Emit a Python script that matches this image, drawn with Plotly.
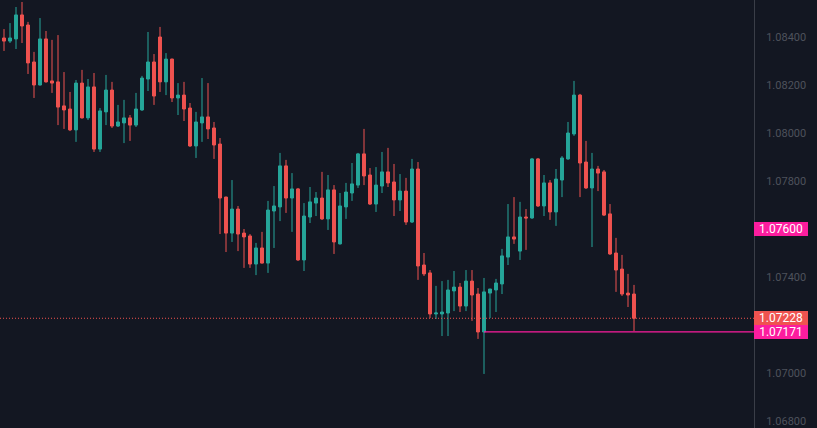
"""
EUR/USD style candlestick snapshot — dark TradingView-like look.
Writes out.html with a single Plotly figure.
"""

import plotly.graph_objects as go

# ---------------------------------------------------------------------------
# Data (OHLC per bar, first bar is partly cut off at the left edge)
# ---------------------------------------------------------------------------
opens = [
    1.08317, 1.08396, 1.08383, 1.08392, 1.08492, 1.08450, 1.08296, 1.08200, 1.08392, 1.08217,
    1.08213, 1.08113, 1.08100, 1.08013, 1.08208, 1.08063, 1.08192, 1.07933, 1.08088, 1.08179,
    1.08029, 1.08042, 1.08063, 1.08033, 1.08096, 1.08225, 1.08296, 1.08400, 1.08213, 1.08308,
    1.08146, 1.08158, 1.08104, 1.07946, 1.08042, 1.08067, 1.08021, 1.07954, 1.07733, 1.07583,
    1.07683, 1.07583, 1.07571, 1.07454, 1.07521, 1.07458, 1.07675, 1.07692, 1.07863, 1.07729,
    1.07767, 1.07471, 1.07650, 1.07708, 1.07729, 1.07642, 1.07763, 1.07538, 1.07692, 1.07750,
    1.07783, 1.07913, 1.07825, 1.07704, 1.07779, 1.07838, 1.07796, 1.07721, 1.07758, 1.07629,
    1.07850, 1.07450, 1.07417, 1.07246, 1.07246, 1.07250, 1.07342, 1.07358, 1.07279, 1.07383,
    1.07329, 1.07171, 1.07333, 1.07346, 1.07371, 1.07483, 1.07567, 1.07508, 1.07650, 1.07646,
    1.07892, 1.07696, 1.07792, 1.07671, 1.07804, 1.07892, 1.07996, 1.08158, 1.07879, 1.07771,
    1.07850, 1.07838, 1.07663, 1.07500, 1.07433, 1.07333, 1.07329,
]
highs = [
    1.08408, 1.08433, 1.08458, 1.08525, 1.08546, 1.08463, 1.08338, 1.08479, 1.08425, 1.08388,
    1.08408, 1.08254, 1.08171, 1.08221, 1.08263, 1.08225, 1.08250, 1.08104, 1.08242, 1.08213,
    1.08117, 1.08138, 1.08075, 1.08167, 1.08238, 1.08421, 1.08329, 1.08442, 1.08333, 1.08310,
    1.08208, 1.08213, 1.08125, 1.08088, 1.08229, 1.08208, 1.08046, 1.07979, 1.07735, 1.07804,
    1.07696, 1.07600, 1.07579, 1.07542, 1.07588, 1.07717, 1.07779, 1.07917, 1.07888, 1.07833,
    1.07771, 1.07708, 1.07775, 1.07754, 1.07838, 1.07825, 1.07783, 1.07750, 1.07792, 1.07875,
    1.07917, 1.08017, 1.07854, 1.07858, 1.07921, 1.07938, 1.07871, 1.07829, 1.07813, 1.07892,
    1.07879, 1.07500, 1.07429, 1.07363, 1.07383, 1.07388, 1.07425, 1.07375, 1.07429, 1.07429,
    1.07354, 1.07396, 1.07350, 1.07392, 1.07517, 1.07704, 1.07733, 1.07713, 1.07683, 1.07896,
    1.07896, 1.07825, 1.07804, 1.07850, 1.07904, 1.08046, 1.08217, 1.08163, 1.07967, 1.07917,
    1.07863, 1.07846, 1.07704, 1.07563, 1.07492, 1.07413, 1.07367,
]
lows = [
    1.08304, 1.08342, 1.08375, 1.08350, 1.08375, 1.08246, 1.08146, 1.08198, 1.08210, 1.08167,
    1.08033, 1.08017, 1.08008, 1.07963, 1.08060, 1.08054, 1.07921, 1.07921, 1.08033, 1.08021,
    1.08025, 1.07958, 1.07967, 1.08025, 1.08092, 1.08175, 1.08117, 1.08171, 1.08158, 1.08129,
    1.08075, 1.08050, 1.07942, 1.07896, 1.07963, 1.07975, 1.07892, 1.07579, 1.07504, 1.07546,
    1.07508, 1.07438, 1.07438, 1.07408, 1.07456, 1.07417, 1.07521, 1.07633, 1.07667, 1.07588,
    1.07467, 1.07425, 1.07625, 1.07654, 1.07638, 1.07596, 1.07496, 1.07535, 1.07642, 1.07717,
    1.07771, 1.07783, 1.07700, 1.07671, 1.07750, 1.07775, 1.07654, 1.07675, 1.07617, 1.07625,
    1.07388, 1.07404, 1.07229, 1.07225, 1.07154, 1.07154, 1.07258, 1.07254, 1.07258, 1.07217,
    1.07142, 1.06996, 1.07229, 1.07254, 1.07329, 1.07450, 1.07538, 1.07471, 1.07513, 1.07642,
    1.07692, 1.07654, 1.07638, 1.07613, 1.07733, 1.07888, 1.07988, 1.07733, 1.07767, 1.07525,
    1.07758, 1.07654, 1.07492, 1.07338, 1.07321, 1.07275, 1.07175,
]
closes = [
    1.08396, 1.08383, 1.08396, 1.08492, 1.08446, 1.08292, 1.08200, 1.08392, 1.08213, 1.08208,
    1.08108, 1.08096, 1.08013, 1.08208, 1.08063, 1.08192, 1.07933, 1.08092, 1.08179, 1.08029,
    1.08046, 1.08063, 1.08033, 1.08100, 1.08229, 1.08296, 1.08154, 1.08213, 1.08308, 1.08146,
    1.08158, 1.08100, 1.07946, 1.08046, 1.08067, 1.08017, 1.07950, 1.07729, 1.07583, 1.07683,
    1.07579, 1.07567, 1.07454, 1.07521, 1.07458, 1.07679, 1.07696, 1.07863, 1.07729, 1.07767,
    1.07471, 1.07654, 1.07713, 1.07729, 1.07642, 1.07763, 1.07546, 1.07696, 1.07754, 1.07788,
    1.07913, 1.07821, 1.07704, 1.07783, 1.07838, 1.07792, 1.07721, 1.07758, 1.07629, 1.07850,
    1.07446, 1.07413, 1.07246, 1.07250, 1.07254, 1.07346, 1.07358, 1.07279, 1.07383, 1.07325,
    1.07171, 1.07338, 1.07350, 1.07375, 1.07488, 1.07567, 1.07558, 1.07650, 1.07646, 1.07892,
    1.07696, 1.07792, 1.07671, 1.07808, 1.07896, 1.08000, 1.08158, 1.07875, 1.07771, 1.07850,
    1.07833, 1.07658, 1.07496, 1.07429, 1.07329, 1.07325, 1.07228,
]
bar_index = list(range(-1, len(opens) - 1))

price_ticks = [1.06800, 1.07000, 1.07200, 1.07400, 1.07600, 1.07800, 1.08000, 1.08200, 1.08400]

last_price   = 1.07228    # live price line
ray_price    = 1.07171    # horizontal ray drawn from the low-open bar
ray_start    = 80
alert_price  = 1.07600

BG      = "#131722"
UP      = "#26a69a"
DOWN    = "#ef5350"
PINK    = "#fc1d9e"
AXIS_TX = "#4e525c"


def build_figure() -> go.Figure:
    fig = go.Figure()

    fig.add_trace(go.Candlestick(
        x=bar_index,
        open=opens, high=highs, low=lows, close=closes,
        increasing=dict(line=dict(color=UP, width=1), fillcolor=UP),
        decreasing=dict(line=dict(color=DOWN, width=1), fillcolor=DOWN),
        whiskerwidth=0,
        showlegend=False,
    ))

    # the alert badge sits on top of its own tick, so leave that tick out
    axis_ticks = [t for t in price_ticks if t != alert_price]

    fig.update_layout(
        width=817,
        height=428,
        paper_bgcolor=BG,
        plot_bgcolor=BG,
        font=dict(family="Roboto, Arial, sans-serif", size=11, color=AXIS_TX),
        margin=dict(l=0, r=63, t=0, b=0),
        showlegend=False,
        xaxis=dict(
            range=[-0.667, 125],
            showticklabels=False,
            showgrid=False,
            zeroline=False,
            rangeslider=dict(visible=False),
        ),
        yaxis=dict(
            side="right",
            range=[1.067708, 1.085542],
            tickvals=axis_ticks,
            tickformat=".5f",
            showgrid=False,
            zeroline=False,
            showline=True,
            linecolor="#3a3e48",
            linewidth=1,
            ticks="outside",
            ticklen=9,
            tickcolor="rgba(0,0,0,0)",
            tickfont=dict(size=11, color=AXIS_TX),
        ),
    )

    # -----------------------------------------------------------------------
    # Price lines
    # -----------------------------------------------------------------------
    fig.add_shape(
        type="line", xref="paper", x0=0, x1=1, y0=last_price, y1=last_price,
        line=dict(color=DOWN, width=1, dash="1px,2px"),
    )
    fig.add_shape(
        type="line", xref="x", x0=ray_start, x1=125, y0=ray_price, y1=ray_price,
        line=dict(color=PINK, width=1.3),
    )

    # Axis badges
    for price, color in [
        (alert_price, PINK),
        (last_price, DOWN),
        (ray_price, PINK),
    ]:
        fig.add_annotation(
            x=1, xref="paper", xanchor="left",
            y=price, yref="y", yanchor="middle",
            text=f"{price:.5f}",
            showarrow=False,
            bgcolor=color,
            font=dict(size=12, color="#ffffff"),
            width=52, height=12,
            borderpad=1,
            borderwidth=0,
            align="center",
        )

    return fig


fig = build_figure()
fig.write_html(
    "out.html",
    config={"displayModeBar": False},
    post_script="document.body.style.margin='0';document.body.style.overflow='hidden';",
)
